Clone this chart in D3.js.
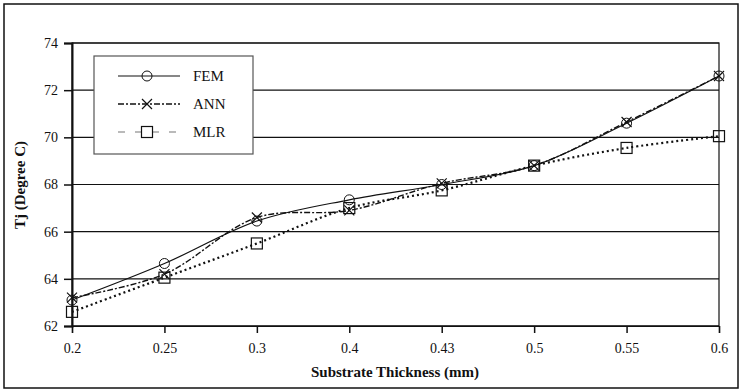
<!DOCTYPE html>
<html><head><meta charset="utf-8">
<script src="https://cdn.jsdelivr.net/npm/d3@7"></script>
<style>body{margin:0;background:#fff}svg{display:block}</style>
</head><body><svg id="c" width="741" height="392"></svg>
<script>
const categories = ["0.2","0.25","0.3","0.4","0.43","0.5","0.55","0.6"];
const femValues = [63.1, 64.65, 66.45, 67.35, 68.0, 68.8, 70.6, 72.6];
const annValues = [63.2, 64.2, 66.6, 66.9, 68.05, 68.8, 70.65, 72.6];
const mlrValues = [62.6, 64.05, 65.5, 67.0, 67.75, 68.8, 69.55, 70.05];
const yTicks = [62, 64, 66, 68, 70, 72, 74];
const seriesNames = ["FEM", "ANN", "MLR"];

const FONT = "'Liberation Serif','Times New Roman',Tinos,'DejaVu Serif','Noto Serif',serif";
const svg = d3.select("#c");
const L = 72, R = 719, T = 43, B = 326;
const x = d3.scalePoint().domain(categories).range([L, R]);
const y = d3.scaleLinear().domain([62, 74]).range([B, T]);

svg.append("rect").attr("x",4).attr("y",4).attr("width",734).attr("height",384)
  .attr("fill","none").attr("stroke","#111").attr("stroke-width",1.5);

svg.append("g").selectAll("line").data(yTicks).join("line")
  .attr("x1",L).attr("x2",R).attr("y1",d=>y(d)).attr("y2",d=>y(d))
  .attr("stroke","#111").attr("stroke-width",1.2);
svg.append("rect").attr("x",L).attr("y",T).attr("width",R-L).attr("height",B-T)
  .attr("fill","none").attr("stroke","#111").attr("stroke-width",1.2);

const yAxis = d3.axisLeft(y).tickValues(yTicks).tickSize(8).tickPadding(6).tickFormat(d3.format("d"));
const gy = svg.append("g").attr("transform",`translate(${L},0)`).call(yAxis);
const xAxis = d3.axisBottom(x).tickSize(7).tickPadding(10);
const gx = svg.append("g").attr("transform",`translate(0,${B})`).call(xAxis);
[gy,gx].forEach(g=>{
  g.attr("font-family",null).attr("font-size",null);
  g.select(".domain").attr("stroke","#111").attr("stroke-width",2);
  g.selectAll(".tick line").attr("stroke","#111").attr("stroke-width",1.5);
  g.selectAll(".tick text").attr("font-family",FONT).attr("font-size",14).attr("fill","#111");
});
gx.select(".domain").attr("stroke-width",1.2);

svg.append("text").attr("x",395).attr("y",377).attr("text-anchor","middle")
  .attr("font-family",FONT).attr("font-size",15).attr("font-weight","bold").attr("fill","#111").text("Substrate Thickness (mm)");
svg.append("text").attr("transform","translate(25,185) rotate(-90)").attr("text-anchor","middle")
  .attr("font-family",FONT).attr("font-size",15).attr("font-weight","bold").attr("fill","#111").text("Tj (Degree C)");

const styles = {
  FEM: {dash:null, w:1.2},
  ANN: {dash:"6,2,2,2", w:1.4},
  MLR: {dash:"2,3", w:2.2}
};
const data = {FEM: femValues, ANN: annValues, MLR: mlrValues};
const line = d3.line().x((d,i)=>x(categories[i])).y(d=>y(d)).curve(d3.curveCatmullRom.alpha(0.5));

function marker(g, name, cx, cy){
  if(name==="FEM") g.append("circle").attr("cx",cx).attr("cy",cy).attr("r",5).attr("fill","none").attr("stroke","#111").attr("stroke-width",1);
  else if(name==="ANN"){
    const s=5;
    g.append("path").attr("d",`M${cx-s},${cy-s}L${cx+s},${cy+s}M${cx-s},${cy+s}L${cx+s},${cy-s}`).attr("stroke","#111").attr("stroke-width",1.2);
  } else g.append("rect").attr("x",cx-5.5).attr("y",cy-5.5).attr("width",11).attr("height",11).attr("fill","none").attr("stroke","#111").attr("stroke-width",1.2);
}

const plot = svg.append("g");
seriesNames.slice().reverse().forEach(name=>{
  const st = styles[name];
  plot.append("path").datum(data[name]).attr("d",line).attr("fill","none")
    .attr("stroke","#111").attr("stroke-width",st.w).attr("stroke-dasharray",st.dash);
  data[name].forEach((v,i)=>marker(plot,name,x(categories[i]),y(v)));
});

const lg = svg.append("g");
lg.append("rect").attr("x",94).attr("y",56).attr("width",159).attr("height",98)
  .attr("fill","#fff").attr("stroke","#555").attr("stroke-width",1.2);
seriesNames.forEach((name,i)=>{
  const cy = 76 + i*28;
  const st = styles[name];
  lg.append("line").attr("x1",118).attr("x2",180).attr("y1",cy).attr("y2",cy)
    .attr("stroke", name==="MLR" ? "#777" : "#111").attr("stroke-width", name==="MLR"?1.2:st.w)
    .attr("stroke-dasharray", name==="MLR" ? "7,10" : st.dash);
  if(name==="MLR") lg.append("rect").attr("x",141).attr("y",cy-6).attr("width",12).attr("height",12).attr("fill","#fff");
  marker(lg,name,147,cy);
  lg.append("text").attr("x",193).attr("y",cy+5).attr("font-family",FONT).attr("font-size",15).attr("fill","#111").text(name);
});
</script></body></html>
